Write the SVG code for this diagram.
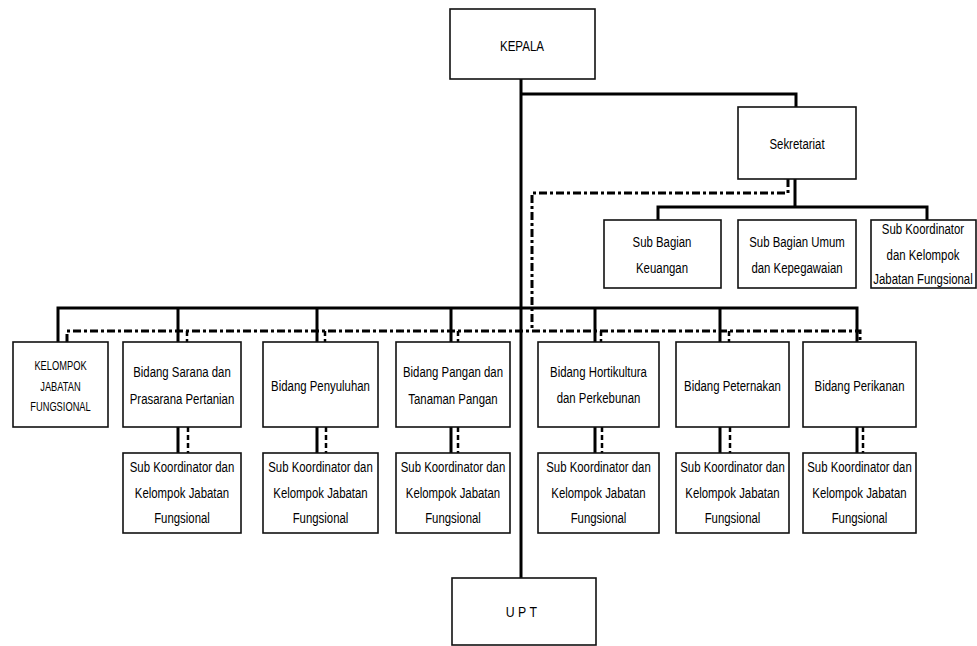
<svg xmlns="http://www.w3.org/2000/svg" width="977" height="646" viewBox="0 0 977 646">
<style>
.box{fill:#fff;stroke:#111;stroke-width:1.6}
.t{font-family:"Liberation Sans",Arial,sans-serif;font-size:15px;fill:#000;text-anchor:middle}
.ts{font-size:13.5px}
.sol{fill:none;stroke:#000;stroke-width:3}
.dd{fill:none;stroke:#000;stroke-width:3;stroke-dasharray:8 3 3 3}
.ds{fill:none;stroke:#000;stroke-width:2.5;stroke-dasharray:5 3}
</style>
<rect width="977" height="646" fill="#fff"/>
<g id="connectors">
  <path class="sol" d="M521 79V578"/>
  <path class="sol" d="M521 94H796V107"/>
  <path class="sol" d="M795 179V207M658 220V207H927V220"/>
  <path class="dd" d="M788 179V193H532V331"/>
  <path class="sol" d="M58 342V308H857V342M178 308V342M317 308V342M451 308V342M595 308V342M720 308V342"/>
  <path class="dd" d="M67 342V331H860V342"/>
  <path class="ds" d="M187 331V342M325 331V342M458 331V342M601 331V342M729 331V342"/>
  <path class="sol" d="M178 427V453M317 427V453M451 427V453M595 427V453M720 427V453M857 427V453"/>
  <path class="ds" d="M188 427V453M326 427V453M458 427V453M602 427V453M730 427V453M863 427V453"/>
</g>
<g id="kepala"><rect class="box" x="450" y="9" width="145" height="70"/><g transform="translate(522 0) scale(0.77 1)"><text class="t" y="51">KEPALA</text></g></g>
<g id="sekretariat"><rect class="box" x="738" y="107" width="118" height="72"/><g transform="translate(797 0) scale(0.76 1)"><text class="t" y="149">Sekretariat</text></g></g>
<g id="subbag-keuangan"><rect class="box" x="604" y="220" width="117" height="68"/><g transform="translate(662 0) scale(0.76 1)"><text class="t" y="247">Sub Bagian</text><text class="t" y="273">Keuangan</text></g></g>
<g id="subbag-umum"><rect class="box" x="738" y="220" width="118" height="68"/><g transform="translate(797 0) scale(0.76 1)"><text class="t" y="247">Sub Bagian Umum</text><text class="t" y="273">dan Kepegawaian</text></g></g>
<g id="subkoor-sekretariat"><rect class="box" x="871" y="220" width="105" height="68"/><g transform="translate(923 0) scale(0.76 1)"><text class="t" y="234">Sub Koordinator</text><text class="t" y="260">dan Kelompok</text><text class="t" y="284">Jabatan Fungsional</text></g></g>
<g id="kelompok-jf"><rect class="box" x="13" y="342" width="95" height="85"/><g transform="translate(60.5 0) scale(0.69 1)"><text class="t ts" y="370">KELOMPOK</text><text class="t ts" y="391">JABATAN</text><text class="t ts" y="411">FUNGSIONAL</text></g></g>
<g id="bidang-sarana"><rect class="box" x="123" y="342" width="118" height="85"/><g transform="translate(182 0) scale(0.76 1)"><text class="t" y="377">Bidang Sarana dan</text><text class="t" y="404">Prasarana Pertanian</text></g></g>
<g id="bidang-penyuluhan"><rect class="box" x="263" y="342" width="115" height="85"/><g transform="translate(320.5 0) scale(0.76 1)"><text class="t" y="391">Bidang Penyuluhan</text></g></g>
<g id="bidang-pangan"><rect class="box" x="396" y="342" width="114" height="85"/><g transform="translate(453 0) scale(0.76 1)"><text class="t" y="377">Bidang Pangan dan</text><text class="t" y="404">Tanaman Pangan</text></g></g>
<g id="bidang-hortikultura"><rect class="box" x="538" y="342" width="121" height="85"/><g transform="translate(598.5 0) scale(0.76 1)"><text class="t" y="377">Bidang Hortikultura</text><text class="t" y="403">dan Perkebunan</text></g></g>
<g id="bidang-peternakan"><rect class="box" x="676" y="342" width="113" height="85"/><g transform="translate(732.5 0) scale(0.76 1)"><text class="t" y="391">Bidang Peternakan</text></g></g>
<g id="bidang-perikanan"><rect class="box" x="803" y="342" width="113" height="85"/><g transform="translate(859.5 0) scale(0.76 1)"><text class="t" y="391">Bidang Perikanan</text></g></g>
<g id="subkoor-sarana"><rect class="box" x="123" y="453" width="118" height="80"/><g transform="translate(182 0) scale(0.76 1)"><text class="t" y="472">Sub Koordinator dan</text><text class="t" y="498">Kelompok Jabatan</text><text class="t" y="523">Fungsional</text></g></g>
<g id="subkoor-penyuluhan"><rect class="box" x="263" y="453" width="115" height="80"/><g transform="translate(320.5 0) scale(0.76 1)"><text class="t" y="472">Sub Koordinator dan</text><text class="t" y="498">Kelompok Jabatan</text><text class="t" y="523">Fungsional</text></g></g>
<g id="subkoor-pangan"><rect class="box" x="396" y="453" width="114" height="80"/><g transform="translate(453 0) scale(0.76 1)"><text class="t" y="472">Sub Koordinator dan</text><text class="t" y="498">Kelompok Jabatan</text><text class="t" y="523">Fungsional</text></g></g>
<g id="subkoor-hortikultura"><rect class="box" x="538" y="453" width="121" height="80"/><g transform="translate(598.5 0) scale(0.76 1)"><text class="t" y="472">Sub Koordinator dan</text><text class="t" y="498">Kelompok Jabatan</text><text class="t" y="523">Fungsional</text></g></g>
<g id="subkoor-peternakan"><rect class="box" x="676" y="453" width="113" height="80"/><g transform="translate(732.5 0) scale(0.76 1)"><text class="t" y="472">Sub Koordinator dan</text><text class="t" y="498">Kelompok Jabatan</text><text class="t" y="523">Fungsional</text></g></g>
<g id="subkoor-perikanan"><rect class="box" x="803" y="453" width="113" height="80"/><g transform="translate(859.5 0) scale(0.76 1)"><text class="t" y="472">Sub Koordinator dan</text><text class="t" y="498">Kelompok Jabatan</text><text class="t" y="523">Fungsional</text></g></g>
<g id="upt"><rect class="box" x="452" y="578" width="144" height="67"/><g transform="translate(523 0) scale(0.82 1)"><text class="t" y="617" letter-spacing="4">UPT</text></g></g>
</svg>
